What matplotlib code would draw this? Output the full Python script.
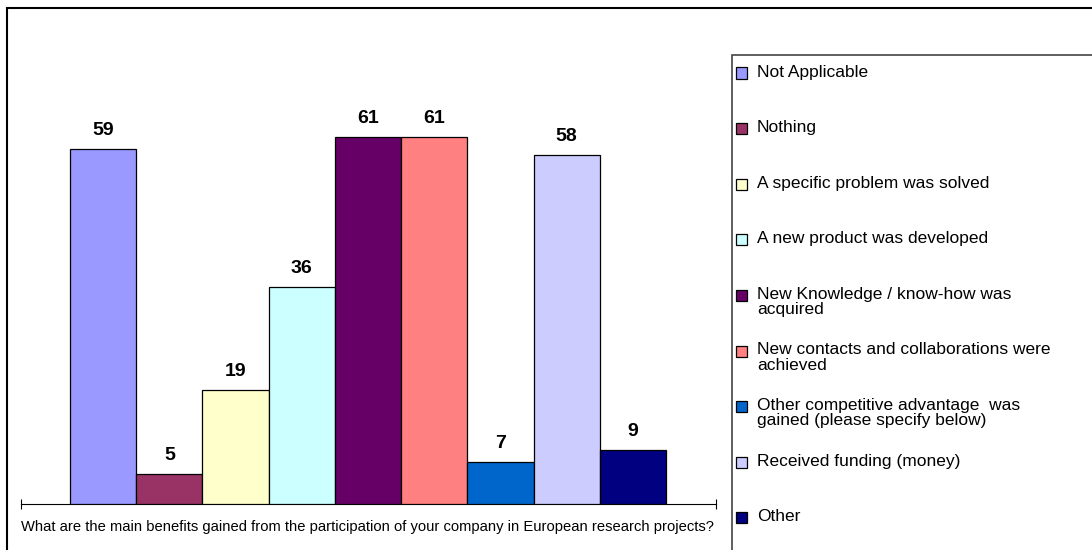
import matplotlib
matplotlib.use("Agg")
import matplotlib.pyplot as plt
from matplotlib.patches import Rectangle

categories = [
    "Not Applicable",
    "Nothing",
    "A specific problem was solved",
    "A new product was developed",
    "New Knowledge / know-how was\nacquired",
    "New contacts and collaborations were\nachieved",
    "Other competitive advantage  was\ngained (please specify below)",
    "Received funding (money)",
    "Other",
]
values = [59, 5, 19, 36, 61, 61, 7, 58, 9]
colors = ["#9999FF", "#993366", "#FFFFCC", "#CCFFFF", "#660066",
          "#FF8080", "#0066CC", "#CCCCFF", "#000080"]
xlabel = "What are the main benefits gained from the participation of your company in European research projects?"

W, H = 1092, 550
plt.rcParams['font.family'] = ['Liberation Sans', 'DejaVu Sans']
fig = plt.figure(figsize=(W / 100, H / 100), dpi=100)

def fx(px):
    return px / W

def fy(py):
    return 1 - py / H

# outer frame
fig.add_artist(Rectangle((fx(7), fy(H + 20)), fx(W + 20), fy(8) - fy(H + 20),
                         transform=fig.transFigure, fill=False, edgecolor='black', lw=1.5))
# legend frame
fig.add_artist(Rectangle((fx(732), fy(H + 20)), fx(W + 20), fy(55) - fy(H + 20),
                         transform=fig.transFigure, fill=False, edgecolor='#444444', lw=1.2))

ax_left, ax_right, ax_bottom, ax_top = 21, 716, 504, 55
ax = fig.add_axes([fx(ax_left), fy(ax_bottom), fx(ax_right - ax_left), fy(ax_top) - fy(ax_bottom)])
ax.patch.set_visible(False)
xpos = list(range(len(values)))
ax.bar(xpos, values, width=1.0, color=colors, edgecolor='black', linewidth=0.9, zorder=3)
ax.set_xlim(-0.5 - 0.74, len(values) - 0.5 + 0.755)
ax.set_ylim(0, (ax_bottom - ax_top) / 6.02)
for x, v in zip(xpos, values):
    ax.annotate(str(v), (x, v), xytext=(0, 10), textcoords='offset points',
                ha='center', va='baseline', fontsize=14, fontweight='bold')
for s in ['top', 'right', 'left']:
    ax.spines[s].set_visible(False)
ax.spines['bottom'].set_linewidth(0.8)
ax.set_yticks([])
ax.set_xticks(ax.get_xlim())
ax.set_xticklabels([])
ax.tick_params(axis='x', direction='inout', length=7, width=0.8)

fig.text(fx(367), fy(527), xlabel, ha='center', va='center', fontsize=10.6)

# legend
for i, (lab, c) in enumerate(zip(categories, colors)):
    y = 73 + i * 55.6
    fig.add_artist(Rectangle((fx(736), fy(y + 5.5)), fx(11), fy(y - 5.5) - fy(y + 5.5),
                             transform=fig.transFigure, facecolor=c, edgecolor='black', lw=0.9))
    fig.text(fx(757), fy(y - 8.5), lab, ha='left', va='top', fontsize=12.5, linespacing=1.0)

fig.savefig("out.png", dpi=100)
